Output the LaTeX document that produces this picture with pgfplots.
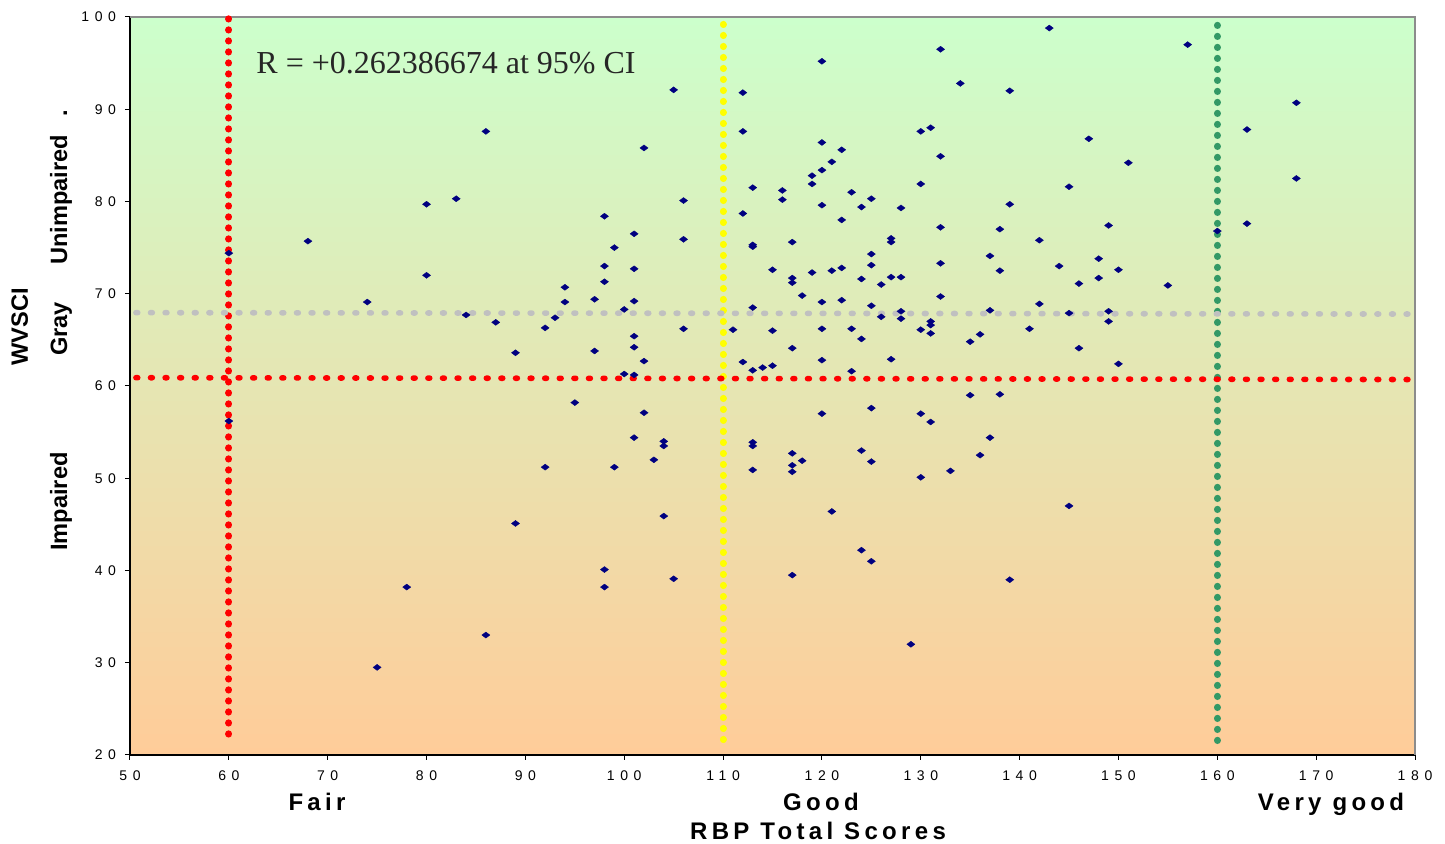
\documentclass[border=0pt]{standalone}
\usepackage{fontspec}
\setmainfont{Liberation Sans}
\newfontfamily\ticksp[LetterSpace=40]{Liberation Sans}
\newfontfamily\labsp[LetterSpace=18]{Liberation Sans}
\newfontfamily\serif{Liberation Serif}
\usepackage{pgfplots}
\pgfplotsset{compat=1.18}

\definecolor{navy}{HTML}{000080}
\definecolor{ptred}{HTML}{FF0000}
\definecolor{ptyellow}{HTML}{FFFF00}
\definecolor{ptgreen}{HTML}{339966}
\definecolor{ptgray}{HTML}{C0C0C0}
\definecolor{bgtop}{HTML}{CCFFCC}
\definecolor{bgbot}{HTML}{FFCC99}

% RBP total score vs WVSCI
\pgfplotstableread{
x y
60 74.4
60 56.2
68 75.7
74 69.1
75 29.5
78 38.2
80 79.7
80 72.0
83 80.3
84 67.7
86 87.6
86 33.0
87 66.9
89 63.6
89 45.1
92 66.3
92 51.2
93 67.4
94 70.7
94 69.1
95 58.2
97 69.4
97 63.8
98 78.4
98 73.0
98 71.3
98 40.1
98 38.2
99 75.0
99 51.2
100 68.3
100 61.3
101 76.5
101 72.7
101 69.2
101 65.4
101 64.2
101 61.2
101 54.4
102 85.8
102 62.7
102 57.1
103 52.0
104 54.0
104 53.5
104 45.9
105 92.1
105 39.1
106 80.1
106 75.9
106 66.2
111 66.1
112 91.8
112 87.6
112 78.7
112 62.6
113 81.5
113 75.3
113 75.1
113 68.5
113 61.7
113 53.9
113 53.5
113 50.9
114 62.0
115 72.6
115 66.0
115 62.2
116 81.2
116 80.2
117 75.6
117 71.7
117 71.2
117 64.1
117 52.7
117 51.4
117 50.7
117 39.5
118 69.8
118 51.9
119 82.8
119 81.9
119 72.3
120 95.2
120 86.4
120 83.4
120 79.6
120 69.1
120 66.2
120 62.8
120 57.0
121 84.3
121 72.5
121 46.4
122 85.6
122 78.0
122 72.8
122 69.3
123 81.0
123 66.2
123 61.6
124 79.4
124 71.6
124 65.1
124 53.0
124 42.2
125 80.3
125 74.3
125 73.1
125 68.7
125 57.6
125 51.8
125 41.0
126 71.0
126 67.5
127 76.0
127 75.6
127 71.8
127 62.9
128 79.3
128 71.8
128 68.1
128 67.3
129 32.0
130 87.6
130 81.9
130 66.1
130 57.0
130 50.1
131 88.0
131 67.0
131 66.6
131 65.7
131 56.1
132 96.5
132 84.9
132 77.2
132 73.3
132 69.7
133 50.8
134 92.8
135 64.8
135 59.0
136 65.6
136 52.5
137 74.1
137 68.2
137 54.4
138 77.0
138 72.5
138 59.1
139 92.0
139 79.7
139 39.0
141 66.2
142 75.8
142 68.9
143 98.8
144 73.0
145 81.6
145 67.9
145 47.0
146 71.1
146 64.1
147 86.8
148 73.8
148 71.7
149 77.4
149 68.1
149 67.0
150 72.6
150 62.4
151 84.2
155 70.9
157 97.0
160 76.8
163 87.8
163 77.6
168 90.7
168 82.5
}\scores

\begin{document}
\begin{tikzpicture}
\useasboundingbox (-65pt,-44.5pt) rectangle (657.5pt,377.5pt);
\begin{axis}[
    at={(0,0)}, anchor=south west,
    width=642.5pt, height=369pt, scale only axis,
    xmin=50, xmax=180, ymin=20, ymax=100,
    xtick={50,60,...,180}, ytick={20,30,...,100},
    axis x line*=bottom, axis y line*=left,
    axis line style={-, black, line width=0.6pt},
    tick align=outside, major tick length=2.5pt,
    tick style={black, line width=0.5pt},
    ticklabel style={font=\ticksp\fontsize{7}{8}\selectfont},
    yticklabel style={xshift=-1pt},
    xticklabel style={yshift=-2pt},
    /pgf/number format/assume math mode=true,
    axis background/.style={top color=bgtop, bottom color=bgbot},
    clip=false,
]
\draw[gray!90, line width=0.6pt] (rel axis cs:0,1) -- (rel axis cs:1,1) -- (rel axis cs:1,0);

\addplot[only marks, mark=diamond*, mark size=2pt,
    mark options={rotate=90, fill=navy, draw=navy, line width=0.2pt}]
    table[x=x, y=y] {\scores};

% band limits
\addplot[no marks, ptyellow, line width=3.5pt, line cap=round, dash pattern=on 0.1pt off 5.4pt]
    coordinates {(110,99.2) (110,21.1)};
\addplot[no marks, ptgreen, line width=3.5pt, line cap=round, dash pattern=on 0.1pt off 5.4pt]
    coordinates {(160,99.1) (160,21.1)};
\addplot[no marks, ptred, line width=3.5pt, line cap=round, dash pattern=on 0.1pt off 5.4pt]
    coordinates {(60,99.8) (60,21.6)};
\addplot[no marks, ptgray, line width=2.8pt, line cap=round, dash pattern=on 0.9pt off 6.4pt]
    coordinates {(50.6,67.95) (179.3,67.8)};
\addplot[no marks, ptred, line width=2.8pt, line cap=round, dash pattern=on 0.9pt off 6.4pt]
    coordinates {(50.6,60.9) (179.3,60.7)};

\node[anchor=base west, inner sep=0pt, font=\serif\fontsize{16}{18}\selectfont, text=black!85]
    at (axis cs:62.75,93.9) {R = +0.262386674 at 95\% CI};
\end{axis}

\node[rotate=90, anchor=base, font=\bfseries\fontsize{11.8}{13}\selectfont] at (-51pt,214pt) {WVSCI};
\node[rotate=90, anchor=base, font=\bfseries\fontsize{11.8}{13}\selectfont] at (-31.5pt,283.75pt) {Unimpaired\hspace{9pt}.};
\node[rotate=90, anchor=base, font=\bfseries\fontsize{11.8}{13}\selectfont] at (-31.5pt,213pt) {Gray};
\node[rotate=90, anchor=base, font=\bfseries\fontsize{11.8}{13}\selectfont] at (-31.5pt,126.75pt) {Impaired};

\node[anchor=base, font=\labsp\bfseries\fontsize{12}{14}\selectfont] at (93.5pt,-28pt) {Fair};
\node[anchor=base, font=\labsp\bfseries\fontsize{12}{14}\selectfont] at (345.5pt,-28pt) {Good};
\node[anchor=base, font=\labsp\bfseries\fontsize{12}{14}\selectfont] at (600.5pt,-28pt) {Very good};
\node[anchor=base, font=\labsp\bfseries\fontsize{12}{14}\selectfont] at (344pt,-42.5pt) {RBP Total Scores};
\end{tikzpicture}
\end{document}
